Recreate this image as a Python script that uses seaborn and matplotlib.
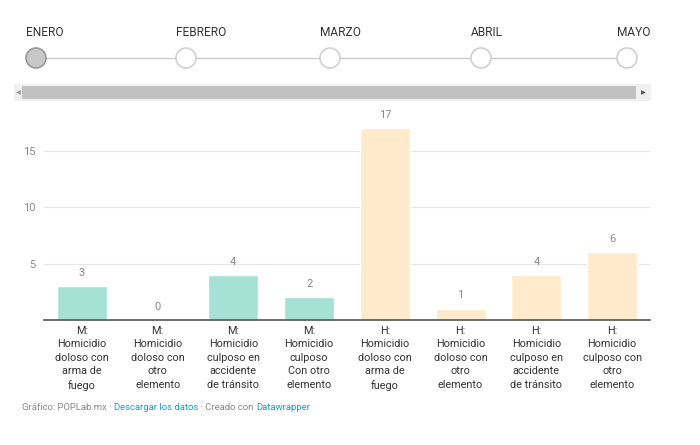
import matplotlib.pyplot as plt
import matplotlib.patches as mpatches
import seaborn as sns
import pandas as pd

categories = [
    "M:\nHomicidio\ndoloso con\narma de\nfuego",
    "M:\nHomicidio\ndoloso con\notro\nelemento",
    "M:\nHomicidio\nculposo en\naccidente\nde tránsito",
    "M:\nHomicidio\nculposo\nCon otro\nelemento",
    "H:\nHomicidio\ndoloso con\narma de\nfuego",
    "H:\nHomicidio\ndoloso con\notro\nelemento",
    "H:\nHomicidio\nculposo en\naccidente\nde tránsito",
    "H:\nHomicidio\nculposo con\notro\nelemento",
]
groups = ["M", "M", "M", "M", "H", "H", "H", "H"]
values = [3, 0, 4, 2, 17, 1, 4, 6]
months = ["ENERO", "FEBRERO", "MARZO", "ABRIL", "MAYO"]
yticks = [5, 10, 15]

df = pd.DataFrame({"cat": categories, "group": groups, "value": values})

sns.set_style("white")
plt.rcParams["font.family"] = ["Roboto", "DejaVu Sans"]

fig = plt.figure(figsize=(7, 4.45), dpi=100)

# timeline / scrollbar decoration, drawn in pixel coordinates
deco = fig.add_axes([0, 0, 1, 1], zorder=0)
deco.set_xlim(0, 700)
deco.set_ylim(445, 0)
deco.axis("off")
month_x = [36, 186, 330, 481, 627]
deco.plot([month_x[0], month_x[-1]], [58, 58], color="#cccccc", lw=1, zorder=1)
for i, (m, x) in enumerate(zip(months, month_x)):
    face = "#c8c8c8" if i == 0 else "white"
    edge = "#999999" if i == 0 else "#d0d0d0"
    deco.add_patch(mpatches.Circle((x, 58), 10, facecolor=face, edgecolor=edge,
                                   lw=1.2, zorder=2))
    last = i == len(months) - 1
    deco.text(650 if last else x - 10, 32, m, ha="right" if last else "left",
              va="center", fontsize=8.6, color="#333333")
deco.add_patch(mpatches.Rectangle((14, 84), 637, 17, facecolor="#f0f0f0",
                                  edgecolor="none", zorder=1))
deco.add_patch(mpatches.Rectangle((22, 86), 614, 13, facecolor="#c1c1c1",
                                  edgecolor="none", zorder=2))
deco.text(18, 92.5, "◀", fontsize=4.5, color="#999999", ha="center", va="center",
          family=["DejaVu Sans"])
deco.text(643, 92.5, "▶", fontsize=4.5, color="#555555", ha="center", va="center",
          family=["DejaVu Sans"])

# footer
parts = [("Gráfico: POPLab.mx · ", "#888888"), ("Descargar los datos", "#1d9bc8"),
         (" · Creado con ", "#888888"), ("Datawrapper", "#1d9bc8")]
fx = 22
renderer = fig.canvas.get_renderer()
for txt, col in parts:
    t = deco.text(fx, 407, txt, fontsize=6.8, color=col, va="center", ha="left")
    bb = t.get_window_extent(renderer=renderer)
    fx += bb.width

# bar chart
ax = fig.add_axes([44 / 700, 1 - 320 / 445, 606 / 700, 203 / 445], zorder=1)
ax.patch.set_alpha(0)
sns.barplot(data=df, x="cat", y="value", hue="group", dodge=False,
            palette={"M": "#a6e1d6", "H": "#ffebcb"}, width=0.66,
            saturation=1, legend=False, ax=ax)
for c in ax.containers:
    ax.bar_label(c, padding=6, fontsize=8, color="#888888")
ax.set_xlim(-0.5, len(categories) - 0.5)
ax.set_ylim(0, 18)
ax.set_yticks(yticks)
ax.yaxis.grid(True, color="#e6e6e6", lw=0.8)
ax.set_axisbelow(True)
ax.set_xlabel("")
ax.set_ylabel("")
for s in ["top", "right", "left"]:
    ax.spines[s].set_visible(False)
ax.spines["bottom"].set_color("#555555")
ax.spines["bottom"].set_linewidth(1.2)
ax.tick_params(axis="y", length=0, labelsize=8, labelcolor="#888888", pad=6)
ax.tick_params(axis="x", length=0, labelsize=7.8, labelcolor="#333333", pad=4)
for lab in ax.get_xticklabels():
    lab.set_linespacing(1.45)

fig.savefig("out.png", dpi=100)
